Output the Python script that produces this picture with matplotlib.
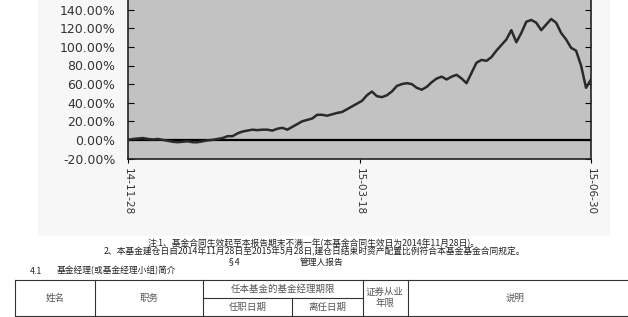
import numpy as np
import matplotlib.pyplot as plt
from matplotlib.lines import Line2D
from matplotlib.patches import Rectangle

# 累计净值增长率 (%), 按时间顺序读取
fund = [0, 1, 1.5, 2, 1, 0.5, 1, 0, -1, -2, -2.5, -2, -1.5, -2.5, -2.5, -1.5,
        -0.5, 0, 1, 2, 4, 4, 7, 9, 10, 11, 10.5, 11, 11, 10, 12, 13, 11, 14,
        17, 20, 21.5, 23, 27, 27, 26, 27.5, 29, 30, 33, 36, 39, 42, 48, 52,
        47, 46, 48, 52, 58, 60, 61, 60, 56, 54, 57, 62, 66, 68, 65, 68, 70,
        66, 61, 72, 83, 86, 85, 89, 96, 102, 108, 118, 105, 115, 127, 129,
        126, 118, 124, 130, 126, 115, 108, 99, 96, 80, 56, 65]
bench = [0, 0]
xlabels = ['14-11-28', '15-03-18', '15-06-30']
yticks = [-20, 0, 20, 40, 60, 80, 100, 120, 140]

W, H = 628, 317
plt.rcParams['font.family'] = ['Noto Sans CJK SC', 'DejaVu Sans']

fig = plt.figure(figsize=(W / 100, H / 100), dpi=100)


def fx(x):
    return x / W


def fy(y):
    return 1 - y / H


# 图表区域浅灰底
fig.add_artist(Rectangle((fx(38), fy(236)), fx(610) - fx(38), fy(0) - fy(236),
                         transform=fig.transFigure, facecolor='#f7f7f7',
                         edgecolor='none', zorder=0))

ax = fig.add_axes([fx(128), fy(158.5), fx(591) - fx(128), (167.4) / H])
ax.set_facecolor('#c2c2c2')
x = np.linspace(0, 1, len(fund))
ax.plot([0, 1], bench, color='black', lw=1.6, zorder=2)
ax.plot(x, fund, color='#2a2a2a', lw=1.8, zorder=3)
ax.set_xlim(0, 1)
ax.set_ylim(-20, 160)
ax.set_yticks(yticks)
ax.set_yticklabels([f'{v:.2f}%' for v in yticks], family='DejaVu Sans',
                   fontsize=9, color='#333333')
ax.set_xticks([0, 0.5, 1])
ax.set_xticklabels(xlabels, rotation=270, family='DejaVu Sans', fontsize=7.5,
                   color='#333333')
ax.tick_params(axis='y', direction='in', length=4, right=True, pad=9)
ax.tick_params(axis='x', direction='out', length=3, pad=4)
for s in ax.spines.values():
    s.set_color('#222222')
    s.set_linewidth(1.2)

# 注释
note_kw = dict(va='center', fontsize=6.3, color='#222222')
fig.text(fx(314), fy(243), '注:1、基金合同生效起至本报告期末不满一年(本基金合同生效日为2014年11月28日)。',
         ha='center', **note_kw)
fig.text(fx(314), fy(252), '2、本基金建仓日自2014年11月28日至2015年5月28日,建仓日结束时资产配置比例符合本基金基金合同规定。',
         ha='center', **note_kw)
fig.text(fx(234), fy(262), '§4', ha='center', **note_kw)
fig.text(fx(322), fy(262), '管理人报告', ha='center', **note_kw)
fig.text(fx(30), fy(271), '4.1', ha='left', **note_kw)
fig.text(fx(57), fy(271), '基金经理(或基金经理小组)简介', ha='left', **note_kw)

# 表格
def hline(x0, x1, y):
    fig.add_artist(Line2D([fx(x0), fx(x1)], [fy(y), fy(y)], color='#333333', lw=0.8))


def vline(x, y0, y1):
    fig.add_artist(Line2D([fx(x), fx(x)], [fy(y0), fy(y1)], color='#333333', lw=0.8))


hline(15, 640, 280)
hline(203, 363, 298)
hline(15, 640, 316)
for cx in [15, 95, 203, 363, 408]:
    vline(cx, 280, 320)
vline(292, 298, 316)

cells = [('姓名', 55, 298), ('职务', 149, 298), ('任本基金的基金经理期限', 283, 289),
         ('任职日期', 248, 307), ('离任日期', 327, 307), ('证券从业', 385, 292),
         ('年限', 385, 303), ('说明', 515, 298)]
for t, cx, cy in cells:
    fig.text(fx(cx), fy(cy), t, ha='center', va='center', fontsize=6.8, color='#555555')

fig.savefig('out.png', dpi=100)
